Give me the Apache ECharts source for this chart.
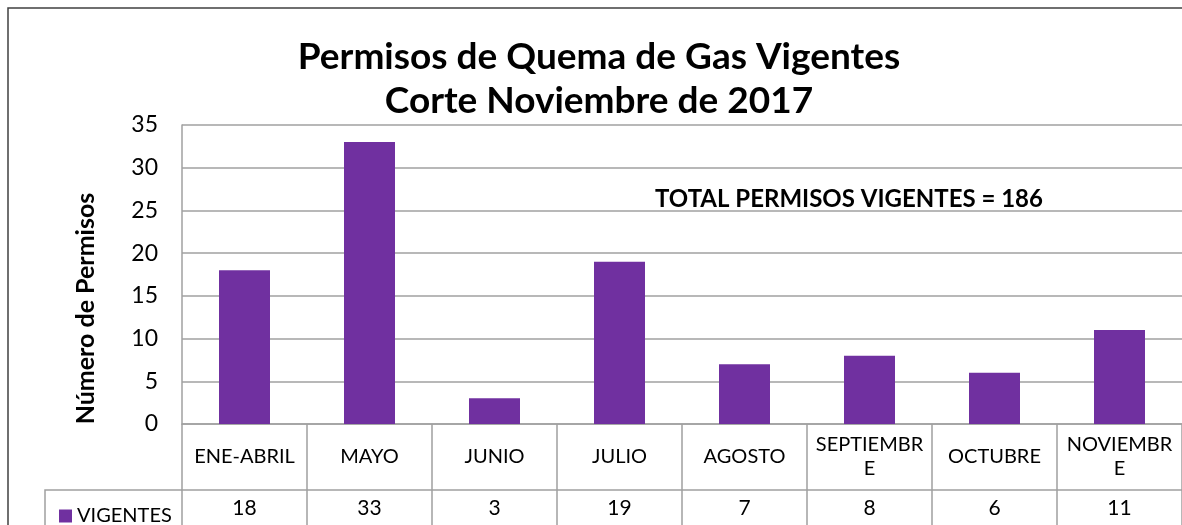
<!DOCTYPE html>
<html>
<head>
<meta charset="utf-8">
<script src="https://cdn.jsdelivr.net/npm/echarts@6/dist/echarts.min.js"></script>
<style>
  html, body { margin: 0; padding: 0; background: #fff; }
  #main { width: 1182px; height: 525px; }
</style>
</head>
<body>
<div id="main"></div>
<script>
// datos
const categorias = ["ENE-ABRIL", "MAYO", "JUNIO", "JULIO", "AGOSTO", "SEPTIEMBRE", "OCTUBRE", "NOVIEMBRE"];
const vigentes = [18, 33, 3, 19, 7, 8, 6, 11];
const yTicks = [0, 5, 10, 15, 20, 25, 30, 35];

const FONT = "Lato, 'Noto Sans', sans-serif";
const LINE = "#a0a0a0";
const PURPLE = "#7030a0";

const chart = echarts.init(document.getElementById("main"));

const option = {
  animation: false,
  textStyle: { fontFamily: FONT, color: "#000" },
  title: [
    {
      text: "Permisos de Quema de Gas Vigentes\nCorte Noviembre de 2017",
      left: 594,
      textAlign: "center",
      top: 30,
      textStyle: { fontSize: 37, fontWeight: "bold", lineHeight: 44, fontFamily: FONT, color: "#000" }
    },
    {
      text: "TOTAL PERMISOS VIGENTES = 186",
      left: 650,
      top: 182,
      textStyle: { fontSize: 24, fontWeight: "bold", fontFamily: FONT, color: "#000" }
    }
  ],
  legend: {
    left: 54,
    top: 501,
    icon: "rect",
    itemWidth: 13,
    itemHeight: 13,
    itemGap: 8,
    textStyle: { fontSize: 20, fontFamily: FONT, color: "#000" },
    data: ["VIGENTES"]
  },
  grid: { left: 182, right: -4, top: 125, bottom: 101, containLabel: false },
  xAxis: [
    {
      type: "category",
      data: categorias,
      position: "bottom",
      axisLine: { show: true, lineStyle: { color: LINE, width: 1.5 } },
      axisTick: { show: true, length: 66, lineStyle: { color: LINE, width: 1.5 } },
      axisLabel: {
        interval: 0,
        margin: 33,
        verticalAlign: "middle",
        fontSize: 20,
        lineHeight: 24,
        color: "#000",
        fontFamily: FONT,
        // ancho de celda: el texto largo se parte como en la tabla de Excel
        width: 112,
        overflow: "breakAll"
      }
    },
    {
      type: "category",
      data: vigentes.map((v) => String(v)),
      position: "bottom",
      offset: 66,
      axisLine: { show: true, lineStyle: { color: LINE, width: 1.5 } },
      axisTick: { show: true, length: 40, lineStyle: { color: LINE, width: 1.5 } },
      axisLabel: {
        interval: 0,
        margin: 18,
        verticalAlign: "middle",
        fontSize: 21,
        color: "#000",
        fontFamily: FONT
      }
    }
  ],
  yAxis: {
    type: "value",
    min: yTicks[0],
    max: yTicks[yTicks.length - 1],
    interval: 5,
    name: "Número de Permisos",
    nameLocation: "middle",
    nameGap: 84,
    nameTextStyle: {
      fontSize: 25,
      fontWeight: "bold",
      fontFamily: FONT,
      color: "#000",
      padding: [0, 68, 0, 0] // baja el titulo del eje como en el original
    },
    axisLine: { show: true, lineStyle: { color: LINE, width: 1.5 } },
    axisTick: { show: false },
    axisLabel: { margin: 24, fontSize: 23, color: "#000", fontFamily: FONT },
    splitLine: { show: true, lineStyle: { color: LINE, width: 1.5 } }
  },
  series: [
    {
      name: "VIGENTES",
      type: "bar",
      xAxisIndex: 0,
      data: vigentes,
      barWidth: 51,
      itemStyle: { color: PURPLE }
    }
  ],
  graphic: [
    // marco exterior del grafico
    {
      type: "rect",
      shape: { x: 8, y: 8, width: 1200, height: 600 },
      style: { fill: "none", stroke: "#404040", lineWidth: 1.5 },
      silent: true
    },
    // celda de la leyenda en la tabla
    {
      type: "polyline",
      shape: { points: [[45, 525], [45, 490], [182, 490]] },
      style: { fill: "none", stroke: LINE, lineWidth: 1.5 },
      silent: true
    }
  ]
};

chart.setOption(option);
</script>
</body>
</html>
